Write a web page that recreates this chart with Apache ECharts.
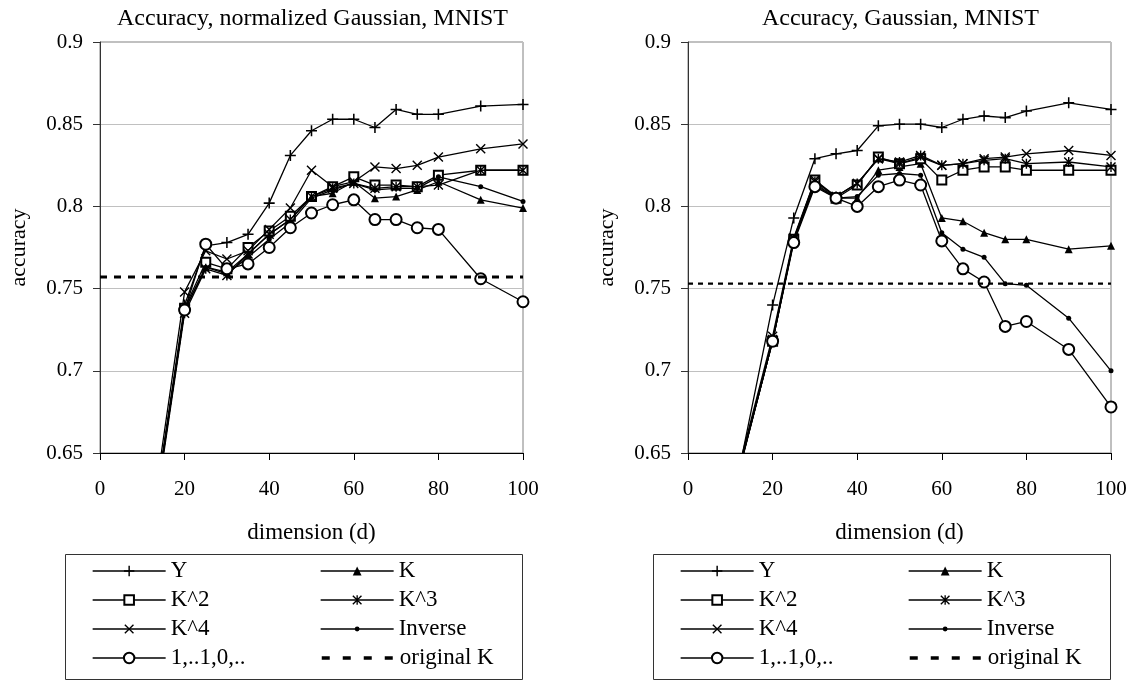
<!DOCTYPE html>
<html>
<head>
<meta charset="utf-8">
<script src="https://cdn.jsdelivr.net/npm/echarts@6/dist/echarts.min.js"></script>
<style>
  html, body { margin: 0; padding: 0; background: #fff; }
  #chart { width: 1132px; height: 681px; }
</style>
</head>
<body>
<div id="chart"></div>
<script>
// Reduced dimension d on the x axis
const dims = [10, 20, 25, 30, 35, 40, 45, 50, 55, 60, 65, 70, 75, 80, 90, 100];

// Axis ranges and tick steps
const xRange = [0, 100];
const xStep = 20;
const yRange = [0.65, 0.9];
const yStep = 0.05;

// Panel titles
const titles = ['Accuracy, normalized Gaussian, MNIST', 'Accuracy, Gaussian, MNIST'];

// Series names, in drawing order
const seriesNames = ['Y', 'K', 'K^2', 'K^3', 'K^4', 'Inverse', '1,..1,0,..', 'original K'];

// Normalized Gaussian kernel
const normY    = [0.566, 0.740, 0.776, 0.778, 0.783, 0.802, 0.831, 0.846, 0.853, 0.853, 0.848, 0.859, 0.856, 0.856, 0.861, 0.862];
const normK    = [0.565, 0.737, 0.763, 0.760, 0.771, 0.783, 0.792, 0.806, 0.808, 0.815, 0.805, 0.806, 0.810, 0.815, 0.804, 0.799];
const normK2   = [0.565, 0.738, 0.766, 0.762, 0.775, 0.785, 0.794, 0.806, 0.812, 0.818, 0.813, 0.813, 0.812, 0.819, 0.822, 0.822];
const normK3   = [0.562, 0.735, 0.762, 0.758, 0.771, 0.783, 0.792, 0.806, 0.811, 0.814, 0.811, 0.812, 0.812, 0.813, 0.822, 0.822];
const normK4   = [0.570, 0.748, 0.773, 0.768, 0.773, 0.786, 0.799, 0.822, 0.812, 0.815, 0.824, 0.823, 0.825, 0.830, 0.835, 0.838];
const normInv  = [0.564, 0.737, 0.763, 0.759, 0.769, 0.780, 0.790, 0.805, 0.810, 0.814, 0.810, 0.811, 0.811, 0.818, 0.812, 0.803];
const normStep = [0.565, 0.737, 0.777, 0.762, 0.765, 0.775, 0.787, 0.796, 0.801, 0.804, 0.792, 0.792, 0.787, 0.786, 0.756, 0.742];
const normOriginalK = 0.757;

// Gaussian kernel
const gaussY    = [0.613, 0.740, 0.793, 0.829, 0.832, 0.834, 0.849, 0.850, 0.850, 0.848, 0.853, 0.855, 0.854, 0.858, 0.863, 0.859];
const gaussK    = [0.619, 0.718, 0.779, 0.814, 0.805, 0.805, 0.822, 0.824, 0.826, 0.793, 0.791, 0.784, 0.780, 0.780, 0.774, 0.776];
const gaussK2   = [0.619, 0.718, 0.780, 0.816, 0.805, 0.813, 0.830, 0.826, 0.829, 0.816, 0.822, 0.824, 0.824, 0.822, 0.822, 0.822];
const gaussK3   = [0.620, 0.719, 0.780, 0.815, 0.806, 0.814, 0.829, 0.827, 0.831, 0.825, 0.826, 0.828, 0.829, 0.826, 0.827, 0.824];
const gaussK4   = [0.621, 0.721, 0.781, 0.816, 0.806, 0.814, 0.829, 0.826, 0.830, 0.825, 0.826, 0.829, 0.830, 0.832, 0.834, 0.831];
const gaussInv  = [0.619, 0.718, 0.779, 0.813, 0.805, 0.806, 0.819, 0.820, 0.819, 0.784, 0.774, 0.769, 0.753, 0.752, 0.732, 0.700];
const gaussStep = [0.618, 0.718, 0.778, 0.812, 0.805, 0.800, 0.812, 0.816, 0.813, 0.779, 0.762, 0.754, 0.727, 0.730, 0.713, 0.678];
const gaussOriginalK = 0.753;

const panels = [
  { values: [normY, normK, normK2, normK3, normK4, normInv, normStep], baseline: normOriginalK },
  { values: [gaussY, gaussK, gaussK2, gaussK3, gaussK4, gaussInv, gaussStep], baseline: gaussOriginalK }
];

const FONT = 'Liberation Serif';

// Marker shapes drawn as filled outlines so they render the same in plot and legend
const SYM = {
  plus:  'path://M4.3,0H5.7V4.3H10V5.7H5.7V10H4.3V5.7H0V4.3H4.3Z',
  cross: 'path://M0,1L1,0L10,9L9,10Z M9,0L10,1L1,10L0,9Z',
  star:  'path://M0,1L1,0L10,9L9,10Z M9,0L10,1L1,10L0,9Z M4.3,0H5.7V10H4.3Z'
};
const markers = [
  { symbol: SYM.plus,      size: 11, legendH: 13 },
  { symbol: 'triangle',    size: 8,  legendH: 11 },
  { symbol: 'emptyRect',   size: 9,  legendH: 12 },
  { symbol: SYM.star,      size: 10, legendH: 12 },
  { symbol: SYM.cross,     size: 10, legendH: 12 },
  { symbol: 'circle',      size: 5,  legendH: 6 },
  { symbol: 'emptyCircle', size: 11, legendH: 13 }
];
const dashStyles = [
  { width: 3, type: [7, 7] },
  { width: 2.2, type: [5, 5] }
];

// Panel geometry
const gridLeft = [100, 688];
const gridTop = 42, gridW = 423, gridH = 411;

const series = [];
panels.forEach((panel, p) => {
  panel.values.forEach((vals, i) => {
    const m = markers[i];
    const empty = m.symbol.indexOf('empty') === 0;
    series.push({
      type: 'line',
      name: seriesNames[i],
      xAxisIndex: p,
      yAxisIndex: p,
      data: dims.map((d, k) => [d, vals[k]]),
      symbol: m.symbol,
      symbolSize: m.size,
      showAllSymbol: true,
      clip: true,
      z: 2 + i,
      lineStyle: { color: '#000', width: 1.3 },
      itemStyle: { color: '#000', borderColor: '#000', borderWidth: empty ? 1.3 : 0 },
      emphasis: { disabled: true }
    });
  });
  series.push({
    type: 'line',
    name: seriesNames[7],
    xAxisIndex: p,
    yAxisIndex: p,
    data: [[xRange[0], panel.baseline], [xRange[1], panel.baseline]],
    symbol: 'none',
    clip: true,
    z: 10,
    lineStyle: { color: '#000', width: dashStyles[p].width, type: dashStyles[p].type },
    itemStyle: { color: '#000' },
    emphasis: { disabled: true }
  });
});

const textBase = { fontFamily: FONT, color: '#000' };

const grids = gridLeft.map(l => ({
  left: l, top: gridTop, width: gridW, height: gridH,
  show: true, borderColor: '#808080', borderWidth: 1, backgroundColor: 'transparent',
  containLabel: false, outerBoundsMode: 'none'
}));

const xAxes = gridLeft.map((l, p) => ({
  type: 'value', gridIndex: p, min: xRange[0], max: xRange[1], interval: xStep,
  name: 'dimension (d)', nameLocation: 'middle', nameGap: 68,
  nameTextStyle: Object.assign({ fontSize: 23 }, textBase),
  axisLine: { show: true, onZero: false, lineStyle: { color: '#000', width: 1 } },
  axisTick: { show: true, inside: false, length: 7, lineStyle: { color: '#000', width: 1 } },
  axisLabel: Object.assign({ show: true, margin: 26, fontSize: 21 }, textBase),
  splitLine: { show: false }
}));

const yAxes = gridLeft.map((l, p) => ({
  type: 'value', gridIndex: p, min: yRange[0], max: yRange[1], interval: yStep,
  name: 'accuracy', nameLocation: 'middle', nameGap: 70, nameRotate: 90,
  nameTextStyle: Object.assign({ fontSize: 22 }, textBase),
  axisLine: { show: true, onZero: false, lineStyle: { color: '#333', width: 1 } },
  axisTick: { show: true, inside: false, length: 7, lineStyle: { color: '#333', width: 1 } },
  axisLabel: Object.assign({
    show: true, margin: 17, fontSize: 21,
    formatter: v => String(+v.toFixed(2))
  }, textBase),
  splitLine: { show: true, lineStyle: { color: '#c0c0c0', width: 1 } }
}));

const titleOpts = titles.map((t, p) => ({
  text: t, left: gridLeft[p] + gridW / 2 - 4, top: 2, textAlign: 'center',
  textStyle: Object.assign({ fontSize: 24, fontWeight: 'normal' }, textBase)
}));

// Two-column, four-row legend under each panel; one component per entry
const legendSlots = [[0, 0], [1, 0], [0, 1], [1, 1], [0, 2], [1, 2], [0, 3], [1, 3]]; // [col, row]
const legendColOffset = [-8, 220];
const legendRow0 = 570, legendRowStep = 29, legendHalfRow = 10.5;
const legends = [];
gridLeft.forEach(l => {
  seriesNames.forEach((name, i) => {
    const [col, row] = legendSlots[i];
    const isBaseline = i === 7;
    const h = isBaseline ? 13 : markers[i].legendH;
    legends.push({
      orient: 'vertical', left: l + legendColOffset[col],
      top: legendRow0 + row * legendRowStep - legendHalfRow, padding: 0,
      itemWidth: 73, itemHeight: h, selectedMode: false,
      textStyle: Object.assign({ fontSize: 23 }, textBase),
      lineStyle: isBaseline ? { width: 3.5, type: [8, 13] } : { width: 1.3 },
      itemStyle: isBaseline ? { opacity: 0 } : {},
      data: [name]
    });
  });
});

const legendBoxes = gridLeft.map(l => ({
  type: 'rect', left: l - 37, top: 552, z: 100,
  shape: { width: 457, height: 125 },
  style: { fill: 'none', stroke: '#333', lineWidth: 1 }
}));

const chart = echarts.init(document.getElementById('chart'), null, { renderer: 'canvas' });
chart.setOption({
  animation: false,
  backgroundColor: '#fff',
  title: titleOpts,
  grid: grids,
  xAxis: xAxes,
  yAxis: yAxes,
  legend: legends,
  graphic: legendBoxes,
  tooltip: { show: false },
  series: series
});
</script>
</body>
</html>
